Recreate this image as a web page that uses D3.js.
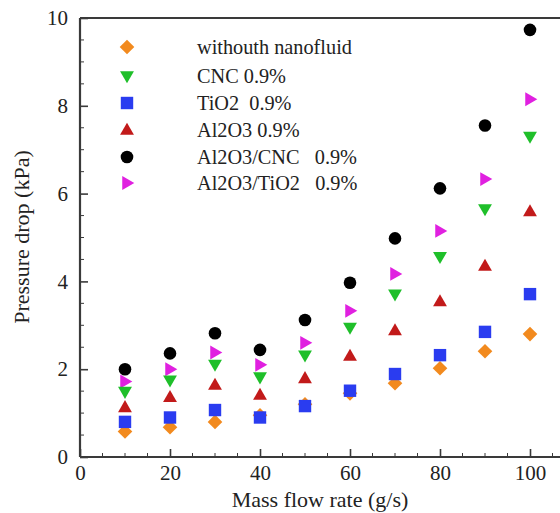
<!DOCTYPE html>
<html><head><meta charset="utf-8">
<script src="https://cdn.jsdelivr.net/npm/d3@7"></script>
<style>body{margin:0;background:#fff}svg{display:block}text{font-family:"Liberation Serif","Times New Roman",serif;fill:#222}</style>
</head><body><svg id="c" width="560" height="513"></svg>
<script>
const massFlow = [10,20,30,40,50,60,70,80,90,100];
const seriesNames = ["withouth nanofluid","CNC 0.9%","TiO2  0.9%","Al2O3 0.9%","Al2O3/CNC   0.9%","Al2O3/TiO2   0.9%"];
const withouth = [0.58,0.68,0.80,0.95,1.20,1.45,1.68,2.02,2.41,2.80];
const cnc      = [1.49,1.75,2.11,1.82,2.32,2.95,3.71,4.56,5.65,7.30];
const tio2     = [0.80,0.90,1.07,0.90,1.16,1.51,1.89,2.32,2.85,3.71];
const al2o3    = [1.13,1.36,1.64,1.41,1.79,2.30,2.88,3.54,4.35,5.59];
const al2o3cnc = [2.00,2.36,2.82,2.44,3.12,3.97,4.98,6.12,7.55,9.73];
const al2o3tio2= [1.72,2.00,2.38,2.10,2.60,3.33,4.17,5.15,6.33,8.15];
const xTicks = [0,20,40,60,80,100];
const yTicks = [0,2,4,6,8,10];

const series = [
  {name:seriesNames[0], vals:withouth, color:"#f28a1e", shape:"diamond"},
  {name:seriesNames[1], vals:cnc, color:"#1fbf2a", shape:"down"},
  {name:seriesNames[2], vals:tio2, color:"#2a3cf0", shape:"square"},
  {name:seriesNames[3], vals:al2o3, color:"#c21a1a", shape:"up"},
  {name:seriesNames[4], vals:al2o3cnc, color:"#000000", shape:"circle"},
  {name:seriesNames[5], vals:al2o3tio2, color:"#e020e0", shape:"right"}
];
const drawOrder = [0,5,1,3,2,4];

const svg = d3.select("#c");
const x = d3.scaleLinear().domain([0,100]).range([80,530]);
const y = d3.scaleLinear().domain([0,10]).range([457,18]);
const xRight = 565;

function shapePath(shape, s){
  switch(shape){
    case "diamond": return `M0,${-s}L${s},0L0,${s}L${-s},0Z`;
    case "square": return `M${-s*0.85},${-s*0.85}h${s*1.7}v${s*1.7}h${-s*1.7}Z`;
    case "up": return `M0,${-s}L${s*0.95},${s*0.65}L${-s*0.95},${s*0.65}Z`;
    case "down": return `M0,${s}L${s*0.95},${-s*0.65}L${-s*0.95},${-s*0.65}Z`;
    case "right": return `M${s},0L${-s*0.65},${s*0.95}L${-s*0.65},${-s*0.95}Z`;
  }
}
function marker(g, shape, color, cx, cy){
  if(shape==="circle"){
    g.append("circle").attr("cx",cx).attr("cy",cy).attr("r",6.3).attr("fill",color);
  } else {
    g.append("path").attr("d",shapePath(shape,7.3)).attr("transform",`translate(${cx},${cy})`).attr("fill",color);
  }
}

// frame
const axC = "#3a3a3a";
svg.append("line").attr("x1",80).attr("x2",xRight).attr("y1",18).attr("y2",18).attr("stroke",axC).attr("stroke-width",2.2);
svg.append("line").attr("x1",80).attr("x2",xRight).attr("y1",457).attr("y2",457).attr("stroke",axC).attr("stroke-width",2.2);
svg.append("line").attr("x1",80).attr("x2",80).attr("y1",18).attr("y2",457).attr("stroke",axC).attr("stroke-width",2.2);

// x axis ticks
const xAxis = d3.axisBottom(x).tickValues(xTicks).tickSize(-8).tickPadding(8).tickFormat(d3.format("d"));
const gx = svg.append("g").attr("transform","translate(0,457)").call(xAxis);
gx.select(".domain").remove();
gx.selectAll(".tick line").attr("stroke",axC).attr("stroke-width",1.6);
gx.selectAll("text").attr("font-size",21).attr("fill","#222").attr("font-family","Liberation Serif, serif");
const xMinor = d3.range(5,106,5).filter(v=>v%20!==0);
svg.append("g").selectAll("line").data(xMinor).join("line")
  .attr("x1",d=>x(d)).attr("x2",d=>x(d)).attr("y1",457).attr("y2",453).attr("stroke",axC).attr("stroke-width",1);

// y axis ticks
const yAxis = d3.axisLeft(y).tickValues(yTicks).tickSize(-8).tickPadding(12).tickFormat(d3.format("d"));
const gy = svg.append("g").attr("transform","translate(80,0)").call(yAxis);
gy.select(".domain").remove();
gy.selectAll(".tick line").attr("stroke",axC).attr("stroke-width",1.6);
gy.selectAll("text").attr("font-size",21).attr("fill","#222").attr("font-family","Liberation Serif, serif");
const yMinor = d3.range(0.5,10,0.5).filter(v=>v%2!==0);
svg.append("g").selectAll("line").data(yMinor).join("line")
  .attr("x1",80).attr("x2",84).attr("y1",d=>y(d)).attr("y2",d=>y(d)).attr("stroke",axC).attr("stroke-width",1);

// titles
svg.append("text").attr("x",320).attr("y",507).attr("text-anchor","middle").attr("font-size",22).text("Mass flow rate (g/s)");
svg.append("text").attr("transform","translate(29,237) rotate(-90)").attr("text-anchor","middle").attr("font-size",22).text("Pressure drop (kPa)");

// data
const gd = svg.append("g");
drawOrder.forEach(i=>{
  const s = series[i];
  s.vals.forEach((v,j)=> marker(gd, s.shape, s.color, x(massFlow[j]), y(v)));
});

// legend
const legY = [47,76,103,130,157,183];
const gl = svg.append("g");
series.forEach((s,i)=>{
  marker(gl, s.shape, s.color, 127, legY[i]);
  gl.append("text").attr("x",197).attr("y",legY[i]+7).attr("font-size",20.3).attr("xml:space","preserve").style("white-space","pre").text(s.name);
});
</script></body></html>
